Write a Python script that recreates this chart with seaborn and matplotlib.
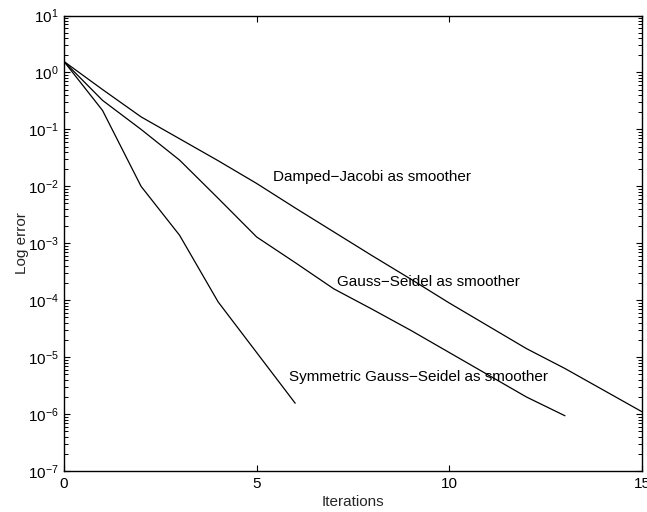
import numpy as np
import pandas as pd
import seaborn as sns
import matplotlib
matplotlib.use("Agg")
import matplotlib.pyplot as plt
from matplotlib.ticker import LogLocator, FixedLocator, NullFormatter

# Convergence history: log10 of the error per multigrid iteration
iters_dj = list(range(0, 16))
log_err_dj = [0.193, -0.30, -0.78, -1.165, -1.55, -1.95, -2.38, -2.80,
              -3.22, -3.63, -4.05, -4.45, -4.85, -5.20, -5.58, -5.96]

iters_gs = list(range(0, 14))
log_err_gs = [0.193, -0.49, -1.00, -1.54, -2.21, -2.89, -3.34, -3.80,
              -4.16, -4.53, -4.92, -5.31, -5.70, -6.03]

iters_sgs = list(range(0, 7))
log_err_sgs = [0.193, -0.667, -2.00, -2.86, -4.03, -4.92, -5.81]

labels = ["Damped\u2212Jacobi as smoother",
          "Gauss\u2212Seidel as smoother",
          "Symmetric Gauss\u2212Seidel as smoother"]
label_x = [5.42, 7.08, 5.85]
label_y = [1.45e-2, 2.1e-4, 4.4e-6]

x_ticks = [0, 5, 10, 15]

sns.set_style("ticks")
plt.rcParams["font.family"] = ["Liberation Sans", "DejaVu Sans"]
plt.rcParams["mathtext.default"] = "regular"
plt.rcParams["font.size"] = 11

frames = []
for name, xs, ls in [("dj", iters_dj, log_err_dj),
                     ("gs", iters_gs, log_err_gs),
                     ("sgs", iters_sgs, log_err_sgs)]:
    frames.append(pd.DataFrame({"iteration": xs,
                                "error": 10.0 ** np.asarray(ls),
                                "smoother": name}))
df = pd.concat(frames, ignore_index=True)

fig = plt.figure(figsize=(6.47, 5.12), dpi=100)
ax = fig.add_axes([0.0989, 0.0801, 0.8934, 0.8896])

sns.lineplot(data=df, x="iteration", y="error", units="smoother",
             estimator=None, color="black", linewidth=0.9, ax=ax,
             legend=False)

ax.set_yscale("log")
ax.set_xlim(0, 15)
ax.set_ylim(1e-7, 1e1)

ax.xaxis.set_major_locator(FixedLocator(x_ticks))
ax.yaxis.set_major_locator(LogLocator(base=10, numticks=20))
ax.yaxis.set_minor_locator(LogLocator(base=10, subs=np.arange(2, 10), numticks=20))
ax.yaxis.set_minor_formatter(NullFormatter())

for side in ["top", "right", "left", "bottom"]:
    ax.spines[side].set_visible(True)
    ax.spines[side].set_linewidth(1.0)
    ax.spines[side].set_color("black")

ax.tick_params(which="both", direction="in", top=True, right=True,
               colors="black", labelsize=11)
ax.tick_params(which="major", length=4.5, width=0.8, pad=4)
ax.tick_params(which="minor", length=3.0, width=0.7, left=True, right=True)

for txt, tx, ty in zip(labels, label_x, label_y):
    ax.text(tx, ty, txt, ha="left", va="center", fontsize=11, color="black")

ax.set_xlabel("Iterations", fontsize=11, labelpad=3)
ax.set_ylabel("Log error", fontsize=11, labelpad=-1)
ax.grid(False)

fig.savefig("out.png", dpi=100)
